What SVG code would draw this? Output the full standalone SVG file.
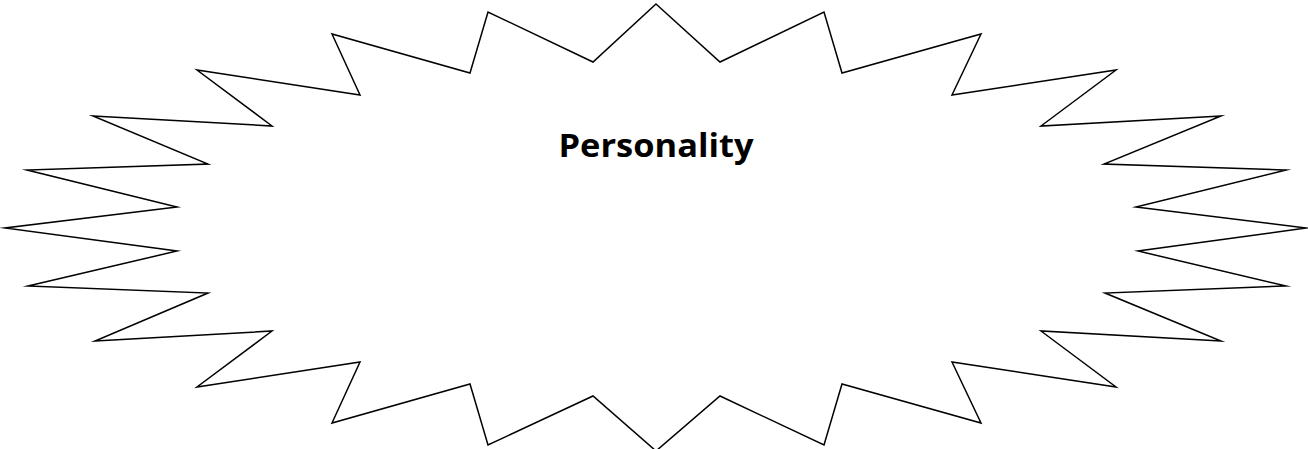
<svg xmlns="http://www.w3.org/2000/svg" width="1308" height="449" viewBox="0 0 1308 449">
<style>
.burst{fill:#ffffff;stroke:#000000;stroke-width:1.5;stroke-linejoin:miter;stroke-miterlimit:20}
.label{font-family:"Comic Sans MS","Open Sans","Liberation Sans",sans-serif;font-weight:bold;font-size:33px;fill:#000000}
</style>
<rect width="1308" height="449" fill="#ffffff"/>
<g id="personality">
<polygon class="burst" points="656,4 720,62 824,12 842,73 981,34 952,95 1116,70 1041,126 1221,116 1104,164 1286,170 1136,207 1306,228 1138,251 1286,286 1105,293 1221,341 1041,331 1116,387 952,362 981,423 842,384 824,445 720,396 656,451 593,396 488,445 470,384 332,423 360,362 197,387 272,331 95,341 208,293 28,286 177,251 5,228 177,207 27,170 208,164 93,116 272,126 197,70 360,95 332,34 470,73 488,12 593,62"/>
<text class="label" x="656" y="157" text-anchor="middle" textLength="195" lengthAdjust="spacingAndGlyphs">Personality</text>
</g>
<g id="connectors"></g>
</svg>
